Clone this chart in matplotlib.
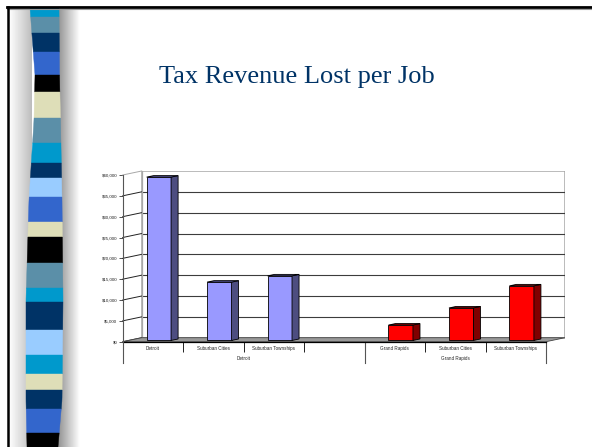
import numpy as np
import matplotlib.pyplot as plt
from matplotlib.patches import Polygon, Rectangle

plt.rcParams['font.family'] = 'Liberation Sans'

# data
title = "Tax Revenue Lost per Job"
categories = ["Detroit", "Suburban Cities", "Suburban Townships", "",
              "Grand Rapids", "Suburban Cities", "Suburban Townships"]
groups = ["Detroit", "Grand Rapids"]
group_spans = [(0, 4), (4, 7)]
detroit = [39200, 14000, 15500]
grand_rapids = [3700, 7800, 13100]
detroit_pos = [0, 1, 2]
gr_pos = [4, 5, 6]
yticks = np.arange(0, 40001, 5000)
ylabels = ["${:,}".format(v) for v in yticks]

# fake 3d box settings
DX, DY = 0.314, 960      # depth of the box (slots, dollars)
F_FRONT, F_DEPTH = 0.31, 0.37
BAR_W = 0.405
N = len(categories)

fig = plt.figure(figsize=(5.92, 4.47), dpi=100)

# ---- slide decoration (pixel coords) ----
deco = fig.add_axes((0, 0, 1, 1))
deco.set_xlim(0, 592)
deco.set_ylim(447, 0)
deco.axis('off')

deco.imshow(np.linspace(1.0, 0.74, 60)[None, :], cmap='gray', vmin=0, vmax=1,
            extent=(9, 32, 447, 9), aspect='auto', zorder=1)
deco.imshow(np.linspace(0.55, 1.0, 60)[None, :], cmap='gray', vmin=0, vmax=1,
            extent=(57, 80, 447, 9), aspect='auto', zorder=1)

band_edges = [8, 17, 33, 52, 75, 92, 118, 143, 163, 178, 197, 222, 237, 263,
              288, 302, 330, 355, 374, 390, 409, 433, 447]
band_colors = ['#0099cc', '#5b8fa8', '#003366', '#3366cc', '#000000', '#dedeb8',
               '#5b8fa8', '#0099cc', '#003366', '#99ccff', '#3366cc', '#dedeb8',
               '#000000', '#5b8fa8', '#0099cc', '#003366', '#99ccff', '#0099cc',
               '#dedeb8', '#003366', '#3366cc', '#000000']
cy = [8, 75, 120, 200, 300, 400, 447]
cl = [30, 35, 34, 29, 26, 26, 27]
cr = [59, 59.5, 60.5, 62, 63, 62, 58]
for y0, y1, c in zip(band_edges[:-1], band_edges[1:], band_colors):
    ys = np.linspace(y0, y1, 6)
    left = np.interp(ys, cy, cl)
    right = np.interp(ys, cy, cr)
    pts = list(zip(left, ys)) + list(zip(right[::-1], ys[::-1]))
    deco.add_patch(Polygon(pts, closed=True, fc=c, ec=c, lw=0.3, zorder=2))

deco.plot([7, 592], [7.3, 7.3], color='black', lw=2.0, zorder=3)
deco.plot([7, 592], [8.9, 8.9], color='#9a9a9a', lw=0.8, zorder=3)
deco.plot([7.8, 7.8], [6.5, 447], color='black', lw=1.8, zorder=3)

fig.text(297 / 592, 1 - 83 / 447, title, ha='center', va='baseline',
         fontsize=19, family='Liberation Serif', color='#003366')

# ---- chart ----
ax = fig.add_axes((122.7 / 592, (447 - 341.7) / 447, 442.3 / 592, 170.7 / 447))
ax.set_xlim(0, N + DX)
ax.set_ylim(0, 40000 + DY)
ax.patch.set_visible(False)
for s in ax.spines.values():
    s.set_visible(False)

# back wall and grid
ax.add_patch(Rectangle((DX, DY), N, 40000, fc='white', ec='#a8a8a8', lw=1.1, zorder=1))
for v in yticks[1:-1]:
    ax.plot([DX, N + DX], [v + DY, v + DY], color='#3c3c3c', lw=0.8, zorder=2)
for v in yticks:
    ax.plot([0, DX], [v, v + DY], color='#222222' if v < 40000 else '#a8a8a8',
            lw=0.7, zorder=2, clip_on=False)
ax.plot([DX, DX], [DY, 40000 + DY], color='#a8a8a8', lw=0.9, zorder=2)

# floor
ax.add_patch(Polygon([(0, 0), (N, 0), (N + DX, DY), (DX, DY)], closed=True,
                     fc='#999999', ec='#444444', lw=0.6, zorder=3))
ax.plot([0, N], [0, 0], color='black', lw=0.9, zorder=4, clip_on=False)


def draw_bars(pos, vals, front, side, top):
    pos = np.asarray(pos, dtype=float)
    vals = np.asarray(vals, dtype=float)
    b = F_FRONT * DY
    xc = pos + 0.5 + F_FRONT * DX
    ax.bar(xc, vals, width=BAR_W, bottom=b, color=front, edgecolor='black',
           lw=0.6, zorder=5)
    ddx, ddy = F_DEPTH * DX, F_DEPTH * DY
    for x, v in zip(xc, vals):
        x0, x1, yt = x - BAR_W / 2, x + BAR_W / 2, v + b
        ax.add_patch(Polygon([(x1, b), (x1, yt), (x1 + ddx, yt + ddy), (x1 + ddx, b + ddy)],
                             closed=True, fc=side, ec='black', lw=0.6, zorder=5))
        ax.add_patch(Polygon([(x0, yt), (x1, yt), (x1 + ddx, yt + ddy), (x0 + ddx, yt + ddy)],
                             closed=True, fc=top, ec='black', lw=0.6, zorder=5))


draw_bars(detroit_pos, detroit, '#9999ff', '#4d4d80', '#5f5fa6')
draw_bars(gr_pos, grand_rapids, '#ff0000', '#800000', '#a00000')

# value axis
ax.plot([0, 0], [-5100, 40000], color='#555555', lw=0.8, zorder=4, clip_on=False)
ax.set_yticks(yticks)
ax.set_yticklabels(ylabels)
ax.tick_params(axis='y', length=2.6, width=0.6, color='#333333', labelsize=3.2,
               pad=1.2, labelcolor='#222222')

# category axis
ax.set_xticks(np.arange(N) + 0.5)
ax.set_xticklabels(categories)
ax.tick_params(axis='x', length=0, labelsize=3.3, pad=3.0, labelcolor='#222222')
ax.set_xticks([1, 2, 3, 5, 6], minor=True)
ax.tick_params(axis='x', which='minor', length=7.4, width=0.7, color='#222222')
for x0, x1 in group_spans:
    ax.plot([x1, x1], [0, -5100], color='#555555', lw=0.8, clip_on=False)
for g, (x0, x1) in zip(groups, group_spans):
    ax.text((x0 + x1) / 2, -4150, g, ha='center', va='center', fontsize=3.3,
            color='#222222')

fig.savefig('out.png', dpi=100)
